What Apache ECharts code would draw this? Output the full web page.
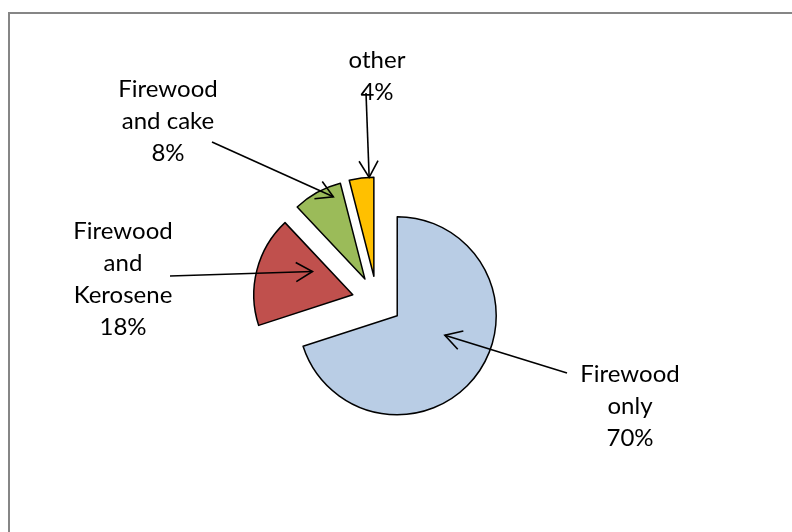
<!DOCTYPE html>
<html>
<head>
<meta charset="utf-8">
<title>Cooking fuel use</title>
<script src="https://cdn.jsdelivr.net/npm/echarts@6/dist/echarts.min.js"></script>
<style>
  html, body { margin: 0; padding: 0; background: #ffffff; }
  #chart { width: 792px; height: 532px; }
</style>
</head>
<body>
<div id="chart"></div>
<script>
// Share of households by cooking fuel (percent)
const categories = ['Firewood only', 'Firewood and Kerosene', 'Firewood and cake', 'other'];
const labelTexts = ['Firewood\nonly', 'Firewood\nand\nKerosene', 'Firewood\nand cake', 'other'];
const values = [70, 18, 8, 4];
const colors = ['#B9CDE5', '#C0504D', '#9BBB59', '#FFC000'];

// Layout of the exploded pie
const CENTER = [377, 301];
const RADIUS = 99;
const EXPLODE = 25;

// Label block centres and the tail point of each callout arrow
const labelPos = [[630, 406], [123, 279], [168, 121], [377, 76]];
const arrowTail = [[567, 373], [170, 276], [212, 142], [366, 93]];
// Where each arrow points inside its slice: [fraction of the slice angle, fraction of radius]
const arrowTarget = [[0.446, 0.52], [0.74, 0.47], [0.77, 0.89], [0.81, 1.0]];

const total = values.reduce((a, b) => a + b, 0);
const rad = d => d * Math.PI / 180;

// Point inside slice i (angles clockwise from 12 o'clock), with the slice's explosion offset
function slicePoint(i, frac, rfrac) {
  let start = 0;
  for (let k = 0; k < i; k++) start += values[k] / total * 360;
  const span = values[i] / total * 360;
  const mid = start + span / 2;
  const ang = start + span * frac;
  const vx = CENTER[0] + EXPLODE * Math.sin(rad(mid));
  const vy = CENTER[1] - EXPLODE * Math.cos(rad(mid));
  return [vx + rfrac * RADIUS * Math.sin(rad(ang)), vy - rfrac * RADIUS * Math.cos(rad(ang))];
}

function arrow(tail, tip) {
  const dx = tip[0] - tail[0], dy = tip[1] - tail[1];
  const len = Math.hypot(dx, dy);
  const ux = dx / len, uy = dy / len;
  const L = 19, a = rad(30);
  const wing = s => {
    const c = Math.cos(s * a), sn = Math.sin(s * a);
    const rx = ux * c - uy * sn, ry = ux * sn + uy * c;
    return [tip[0] - L * rx, tip[1] - L * ry];
  };
  const style = { stroke: '#000000', lineWidth: 1.6, fill: null };
  return [
    { type: 'polyline', shape: { points: [tail, tip] }, style: style, z: 100 },
    { type: 'polyline', shape: { points: [wing(1), tip, wing(-1)] }, style: style, z: 100 }
  ];
}

const arrows = [];
const labels = [];
categories.forEach((c, i) => {
  const t = slicePoint(i, arrowTarget[i][0], arrowTarget[i][1]);
  arrows.push(...arrow(arrowTail[i], t));
  labels.push({
    type: 'text',
    x: labelPos[i][0],
    y: labelPos[i][1],
    z: 90,
    style: {
      text: labelTexts[i] + '\n' + values[i] + '%',
      fontFamily: 'Lato',
      fontSize: 24,
      lineHeight: 32,
      fill: '#000000',
      align: 'center',
      verticalAlign: 'middle'
    }
  });
});

const chart = echarts.init(document.getElementById('chart'), null, { renderer: 'canvas' });

chart.setOption({
  backgroundColor: '#ffffff',
  animation: false,
  graphic: [
    {
      type: 'rect',
      shape: { x: 9, y: 13, width: 800, height: 540 },
      style: { stroke: '#868686', lineWidth: 2, fill: null },
      silent: true,
      z: 0
    },
    ...labels,
    ...arrows
  ],
  series: [{
    type: 'pie',
    center: CENTER,
    radius: RADIUS,
    startAngle: 90,
    clockwise: true,
    selectedMode: 'multiple',
    selectedOffset: EXPLODE,
    avoidLabelOverlap: false,
    emphasis: { disabled: true },
    itemStyle: { borderColor: '#000000', borderWidth: 1.5 },
    select: { itemStyle: { borderColor: '#000000', borderWidth: 1.5 } },
    label: { show: false },
    labelLine: { show: false },
    data: categories.map((c, i) => ({
      name: c,
      value: values[i],
      selected: true,
      itemStyle: { color: colors[i] },
      select: { itemStyle: { color: colors[i] } }
    }))
  }]
});
</script>
</body>
</html>
